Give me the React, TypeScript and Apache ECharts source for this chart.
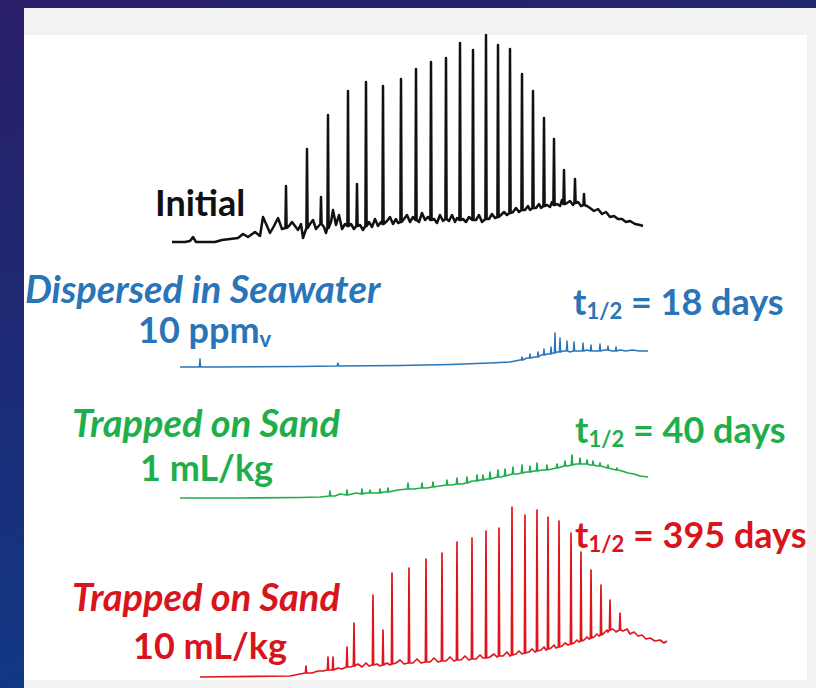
import React, { useEffect, useRef } from "react";
import * as echarts from "echarts";

// Chromatograms: x = retention time (min), y = detector response (relative units)
// Baseline points [t, response]; peaks [t, baseResponse, apexResponse]

const initialBaseline = [[0,1.5],[1.3,1.5],[1.8,2],[2.1,4],[2.4,1.5],[4.3,1.5],[5.0,2.5],[5.8,3],[6.6,3.5],[7.1,5.5],[7.6,4],[8.3,6.5],[8.8,4.5],[9.1,14],[9.5,9.5],[9.8,6],[10.2,9.5],[10.6,13.5],[11.0,8],[11.7,9.5],[12.0,11.5],[12.3,9.5],[12.6,7.5],[12.9,10.5],[13.1,3.5],[13.8,10.5],[14.1,12.5],[14.4,8],[15.2,9],[15.4,6],[15.9,11.5],[16.1,17.5],[16.4,10],[16.7,15],[17.0,8],[17.3,10.5],[17.9,10.5],[18.2,8],[18.8,10],[19.1,7.5],[19.7,11.5],[20.0,9],[20.3,13],[20.6,9.5],[20.9,11.5],[21.5,12],[21.8,14],[22.1,10.5],[22.4,13],[22.6,11],[23.2,13],[23.5,15],[23.8,11.5],[24.1,14],[24.7,11.5],[25.0,16],[25.3,12.5],[25.6,14],[26.2,13],[26.5,11],[26.8,15],[27.1,12],[27.7,12],[28.0,15],[28.3,11.5],[28.5,13.5],[29.1,13],[29.4,11.5],[29.7,14],[30.4,12.5],[30.7,15],[31.0,11.5],[31.7,13],[32.0,15.5],[32.3,13.5],[32.9,15],[33.2,16.5],[33.5,15],[34.1,16.5],[34.4,18.5],[34.7,16.5],[35.3,17.5],[35.6,19.5],[35.8,17.5],[36.4,18.5],[36.7,20.5],[36.9,18.5],[37.5,20],[37.8,19],[38.0,21.5],[38.5,20.5],[38.8,19.5],[39.0,22.5],[39.5,21],[39.8,22],[40.1,20],[40.6,21.5],[40.9,19.5],[41.5,19.5],[41.8,18.5],[42.2,17],[42.6,18],[43.0,15.5],[43.4,16.5],[43.8,14],[44.2,14.5],[44.6,13],[45.0,13],[45.4,11.5],[45.8,12],[46.3,10.5],[46.8,10],[47.1,9.5]];
const initialPeaks = [[11.4,8.5,29.5],[13.5,8.5,48],[14.9,10.5,24],[15.6,8.5,65],[17.6,9.5,77],[18.5,9.5,30.5],[19.4,9.5,81.5],[21.1,10.5,79.5],[22.9,11.5,83],[24.4,12.5,88],[25.9,12.5,91.5],[27.4,13,93.5],[28.8,12.5,101],[30.1,12.5,97.5],[31.4,13,105],[32.6,14,100],[33.8,16,98],[35.0,17.5,85.5],[36.1,18.5,77],[37.2,19.5,63.5],[38.2,20,53],[39.2,20.5,37.5],[40.3,21,33],[41.2,20,25.5]];

const seawaterBaseline = [[0.8,1.5],[2.6,1.5],[4.3,1.5],[12.8,1.75],[16.5,2],[22.8,2.25],[27.8,2.75],[31.8,3.5],[33.8,4],[34.8,5],[35.5,6],[36.3,6.5],[36.9,7.5],[37.5,8],[38.1,8.5],[38.5,9],[39.1,9.5],[39.8,9],[40.5,9.5],[41.5,10],[42.3,9.5],[43.2,10],[44.0,9.5],[44.8,10],[45.4,9.5],[46.0,10],[46.8,9.5],[47.6,9.5]];
const seawaterPeaks = [[2.8,1.5,5.5],[16.6,2,3.5],[35.0,5,6.5],[35.8,6,8],[36.6,6.5,9],[37.2,7.5,10.5],[37.9,8,11.5],[38.3,8.5,18.5],[38.8,9,16],[39.5,9.5,14.5],[40.2,9.5,14],[41.1,9.5,13.5],[41.9,9.5,12.5],[42.8,9.5,13],[43.6,10,12],[44.4,9.5,11.5]];

const sand1Baseline = [[0.8,1],[6.8,1],[12.8,1.25],[14.8,1.5],[15.3,1.75],[16.3,2],[16.8,3],[18.0,3],[18.4,3.5],[19.4,3.5],[20.3,3.5],[21.2,4],[22.1,4.5],[22.6,5],[24.2,5.5],[25.5,6],[26.8,7],[28.0,7.5],[29.0,8],[30.0,9.5],[30.8,10],[31.5,10.5],[32.2,11],[32.9,11.5],[33.7,12.5],[34.5,13],[35.4,14],[36.2,14.5],[37.0,15],[38.0,15.5],[38.9,16.5],[39.6,17],[40.4,18],[41.2,18],[41.8,17.5],[42.5,17],[43.2,16.5],[44.0,15.5],[45.0,14.5],[45.6,13.5],[46.2,13],[46.8,12],[47.6,11.5]];
const sand1Peaks = [[15.8,2,4.5],[17.5,2.5,5],[19.0,3,5.5],[19.8,3.5,5],[20.8,3.5,5.5],[21.6,4,6],[23.6,5.5,8.5],[25.0,6,8.5],[26.1,6.5,9],[27.5,7.5,10],[28.5,8,11],[29.5,8.5,11.5],[30.5,9.5,12.5],[31.1,10,12.5],[31.8,10.5,14],[32.6,11.5,15],[33.3,12,15.5],[34.1,13,16.5],[35.0,13.5,17.5],[35.8,14,17],[36.5,14.5,18.5],[37.5,15,17.5],[38.5,16,18],[39.3,17,19.5],[40.0,17.5,22.5],[40.8,18,21],[41.5,18,20],[42.1,17.5,19.5],[42.8,17,18.5],[43.6,16,17.5],[44.5,15,16]];

const sand10Baseline = [[2.8,1.5],[11.8,2],[12.8,3],[14.0,3.5],[14.6,4.5],[15.1,4.5],[16.6,6],[17.0,5.5],[17.8,6.5],[18.6,8],[19.0,6.5],[19.4,8.5],[19.7,7],[20.5,8],[20.8,7],[21.5,8.5],[21.8,7.5],[22.4,8.5],[22.8,10],[23.2,8],[24.1,8.5],[24.5,10.5],[24.9,8.5],[25.8,9],[26.2,11],[26.6,9],[27.4,9.5],[27.8,11.5],[28.2,9.5],[28.9,10],[29.3,12],[29.7,10],[30.4,10.5],[30.8,12.5],[31.1,11],[31.8,11.5],[32.2,13],[32.5,11.5],[33.1,12],[33.5,14],[33.8,12],[34.4,13],[34.7,14.5],[35.0,13],[35.7,14],[36.0,15.5],[36.3,14],[36.9,15],[37.2,16.5],[37.4,15],[37.9,16],[38.2,17.5],[38.4,16],[39.0,17],[39.3,18.5],[39.6,17.5],[40.2,18.5],[40.5,20],[40.7,19],[41.2,20],[41.5,21.5],[41.7,20.5],[42.2,21.5],[42.5,23],[42.7,22],[43.2,23.5],[43.5,25],[43.6,24],[44.1,25.5],[44.4,24],[45.1,24.5],[45.5,25.5],[45.8,23],[46.2,24],[46.6,22],[47.0,22.5],[47.4,20.5],[47.8,21],[48.3,19.5],[48.8,20],[49.2,18.5],[49.5,19.5]];
const sand10Peaks = [[13.4,3.5,7],[15.6,5,11.5],[16.1,5,11.5],[17.5,6.5,16.5],[18.2,7,28.5],[20.1,7.5,42.5],[21.1,7.5,25],[22.0,8,53.5],[23.7,8.5,56],[25.4,9,60.5],[27.0,9.5,63.5],[28.5,10,69],[30.0,10.5,71],[31.4,11,74.5],[32.7,12,76],[34.0,12.5,86.5],[35.3,13.5,82.5],[36.5,14.5,85],[37.6,15.5,81.5],[38.7,16.5,79.5],[39.9,18,73.5],[40.9,19.5,64],[41.9,21,55],[42.9,22.5,47.5],[43.8,25,40],[44.8,25,33.5]];

const sampleNames = ["Initial", "Dispersed in Seawater", "Trapped on Sand", "Trapped on Sand"];
const sampleDoses = ["", "10 ppm{sub|v}", "1 mL/kg", "10 mL/kg"];
const halfLives = ["", "18", "40", "395"];

const COLORS = ["#111111", "#2a74b8", "#1fae4c", "#e0141c"];
const TEXT_COLORS = ["#111111", "#2a74b8", "#1fae4c", "#d8141c"];
const LINE_W = [2.5, 1.5, 1.7, 1.7];
const GRID_BOTTOM = [245, 370, 500, 680];
const FONT = "Lato, 'Open Sans', sans-serif";

function buildTrace(baseline: number[][], peaks: number[][]) {
  const pts: number[][] = baseline.map((p) => [p[0], p[1]]);
  peaks.forEach(([t, b, top]) => {
    pts.push([t - 0.06, b], [t, top], [t + 0.06, b]);
  });
  pts.sort((a, b) => a[0] - b[0]);
  return pts;
}

const traces = [
  buildTrace(initialBaseline, initialPeaks),
  buildTrace(seawaterBaseline, seawaterPeaks),
  buildTrace(sand1Baseline, sand1Peaks),
  buildTrace(sand10Baseline, sand10Peaks),
];

function txt(x: number, y: number, text: string, color: string, size: number, italic = false) {
  const hasSub = text.indexOf("{sub|") >= 0;
  return {
    type: "text",
    x,
    y,
    z: 100,
    silent: true,
    style: {
      text,
      fill: color,
      fontSize: size,
      fontWeight: "bold",
      fontStyle: italic ? "italic" : "normal",
      fontFamily: FONT,
      align: "left",
      verticalAlign: "middle",
      lineHeight: hasSub ? 40 : Math.round(size * 0.9),
      rich: {
        sub: {
          fontSize: Math.round(size * 0.6),
          fontWeight: "bold",
          fontFamily: FONT,
          fill: color,
          lineHeight: 14,
          verticalAlign: "bottom",
        },
      },
    },
  };
}

export default function App() {
  const ref = useRef<HTMLDivElement>(null);
  useEffect(() => {
    const chart = echarts.init(ref.current!, null, { renderer: "svg" });
    const SIZE = 36;
    const ISIZE = 38;
    const graphic: any[] = [
      {
        type: "rect", z: -10, silent: true,
        shape: { x: 0, y: 0, width: 816, height: 688 },
        style: {
          fill: {
            type: "linear", x: 0, y: 0, x2: 0.3, y2: 1,
            colorStops: [
              { offset: 0, color: "#2a1e68" },
              { offset: 1, color: "#0f3a86" },
            ],
          },
        },
      },
      { type: "rect", z: -9, silent: true, shape: { x: 24, y: 8, width: 792, height: 680 }, style: { fill: "#f2f2f2" } },
      { type: "rect", z: -8, silent: true, shape: { x: 24, y: 35, width: 783, height: 645 }, style: { fill: "#ffffff" } },
      txt(155, 202, sampleNames[0], TEXT_COLORS[0], SIZE),
      txt(25, 288, sampleNames[1], TEXT_COLORS[1], ISIZE, true),
      txt(138, 329, sampleDoses[1], TEXT_COLORS[1], SIZE),
      txt(573, 301, "t{sub|1/2} = " + halfLives[1] + " days", TEXT_COLORS[1], SIZE),
      txt(72, 422, sampleNames[2], TEXT_COLORS[2], ISIZE, true),
      txt(140, 467, sampleDoses[2], TEXT_COLORS[2], SIZE),
      txt(575, 429, "t{sub|1/2} = " + halfLives[2] + " days", TEXT_COLORS[2], SIZE),
      txt(72, 596, sampleNames[3], TEXT_COLORS[3], ISIZE, true),
      txt(133, 645, sampleDoses[3], TEXT_COLORS[3], SIZE),
      txt(575, 534, "t{sub|1/2} = " + halfLives[3] + " days", TEXT_COLORS[3], SIZE),
    ];
    chart.setOption({
      animation: false,
      grid: GRID_BOTTOM.map((b) => ({ left: 172, width: 500, top: b - 220, height: 220 })),
      xAxis: GRID_BOTTOM.map((_, i) => ({ type: "value", gridIndex: i, min: 0, max: 50, show: false })),
      yAxis: GRID_BOTTOM.map((_, i) => ({ type: "value", gridIndex: i, min: 0, max: 110, show: false })),
      graphic,
      series: traces.map((data, i) => ({
        type: "line",
        xAxisIndex: i,
        yAxisIndex: i,
        data,
        showSymbol: false,
        symbol: "none",
        silent: true,
        z: 5,
        lineStyle: { color: COLORS[i], width: LINE_W[i], join: "round" },
      })),
    });
    return () => chart.dispose();
  }, []);
  return <div ref={ref} style={{ position: "absolute", left: 0, top: 0, width: 816, height: 688 }} />;
}
